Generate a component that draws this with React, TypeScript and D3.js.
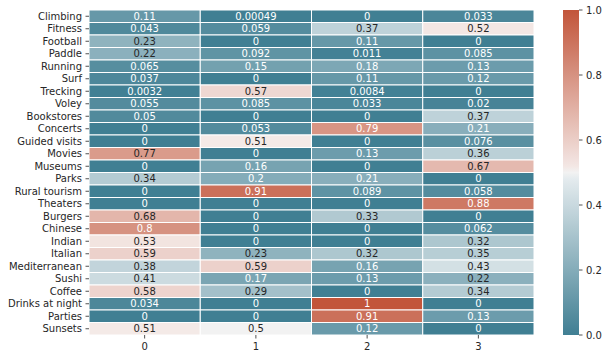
import React from "react";
import * as d3 from "d3";

const rowLabels = [
  "Climbing", "Fitness", "Football", "Paddle", "Running", "Surf", "Trecking", "Voley",
  "Bookstores", "Concerts", "Guided visits", "Movies", "Museums", "Parks", "Rural tourism",
  "Theaters", "Burgers", "Chinese", "Indian", "Italian", "Mediterranean", "Sushi", "Coffee",
  "Drinks at night", "Parties", "Sunsets",
];
const colLabels = ["0", "1", "2", "3"];
const values: number[][] = [
  [0.11, 0.00049, 0, 0.033],
  [0.043, 0.059, 0.37, 0.52],
  [0.23, 0, 0.11, 0],
  [0.22, 0.092, 0.011, 0.085],
  [0.065, 0.15, 0.18, 0.13],
  [0.037, 0, 0.11, 0.12],
  [0.0032, 0.57, 0.0084, 0],
  [0.055, 0.085, 0.033, 0.02],
  [0.05, 0, 0, 0.37],
  [0, 0.053, 0.79, 0.21],
  [0, 0.51, 0, 0.076],
  [0.77, 0, 0.13, 0.36],
  [0, 0.16, 0, 0.67],
  [0.34, 0.2, 0.21, 0],
  [0, 0.91, 0.089, 0.058],
  [0, 0, 0, 0.88],
  [0.68, 0, 0.33, 0],
  [0.8, 0, 0, 0.062],
  [0.53, 0, 0, 0.32],
  [0.59, 0.23, 0.32, 0.35],
  [0.38, 0.59, 0.16, 0.43],
  [0.41, 0.17, 0.13, 0.22],
  [0.58, 0.29, 0, 0.34],
  [0.034, 0, 1, 0],
  [0, 0, 0.91, 0.13],
  [0.51, 0.5, 0.12, 0],
];
const cbTicks = [0, 0.2, 0.4, 0.6, 0.8, 1.0];

const W = 609, H = 360;
const left = 89, right = 534, top = 10, bottom = 335;
const cbX0 = 563, cbX1 = 579;
const font = "DejaVu Sans, sans-serif";

const color = d3
  .scaleLinear<string>()
  .domain([0, 0.498, 0.5, 0.502, 1])
  .range(["#407f93", "#eaeff1", "#f2f2f2", "#f5ecea", "#c2553a"])
  .interpolate(d3.interpolateRgb)
  .clamp(true);

// text is dark on the light middle band of the colormap, white on the ends
const textColor = (v: number) => (v > 0.215 && v < 0.78 ? "#262626" : "#ffffff");

const fmt = d3.format(".2~g");

export default function App() {
  const x = d3.scaleBand<string>().domain(colLabels).range([left, right]);
  const y = d3.scaleBand<string>().domain(rowLabels).range([top, bottom]);
  const cy = d3.scaleLinear().domain([0, 1]).range([bottom, top]);
  const gradStops = d3.range(0, 1.0001, 0.02);

  return (
    <svg width={W} height={H} style={{ position: "absolute", left: 0, top: 0, background: "#fff" }}
      fontFamily={font}>
      <defs>
        <linearGradient id="cb" x1="0" y1="1" x2="0" y2="0">
          {gradStops.map((t) => (
            <stop key={t} offset={t} stopColor={color(t)} />
          ))}
        </linearGradient>
      </defs>
      {values.map((row, i) =>
        row.map((v, j) => {
          const c = color(v);
          const xx = x(colLabels[j])!;
          const yy = y(rowLabels[i])!;
          return (
            <g key={`${i}-${j}`}>
              <rect x={xx} y={yy} width={x.bandwidth()} height={y.bandwidth()} fill={c}
                stroke="#fff" strokeWidth={1} />
              <text x={xx + x.bandwidth() / 2} y={yy + y.bandwidth() / 2} dy="0.35em"
                textAnchor="middle" fontSize={10} fill={textColor(v)}>
                {fmt(v)}
              </text>
            </g>
          );
        })
      )}
      {rowLabels.map((r) => {
        const yy = y(r)! + y.bandwidth() / 2;
        return (
          <g key={r}>
            <line x1={left - 3.5} x2={left} y1={yy} y2={yy} stroke="#262626" strokeWidth={0.8} />
            <text x={left - 7} y={yy} dy="0.35em" textAnchor="end" fontSize={10} fill="#262626">
              {r}
            </text>
          </g>
        );
      })}
      {colLabels.map((c) => {
        const xx = x(c)! + x.bandwidth() / 2;
        return (
          <g key={c}>
            <line x1={xx} x2={xx} y1={bottom} y2={bottom + 3.5} stroke="#262626" strokeWidth={0.8} />
            <text x={xx} y={bottom + 7} dy="0.76em" textAnchor="middle" fontSize={10} fill="#262626">
              {c}
            </text>
          </g>
        );
      })}
      <rect x={cbX0} y={top} width={cbX1 - cbX0} height={bottom - top} fill="url(#cb)" />
      {cbTicks.map((t) => (
        <g key={t}>
          <line x1={cbX1} x2={cbX1 + 3.5} y1={cy(t)} y2={cy(t)} stroke="#262626" strokeWidth={0.8} />
          <text x={cbX1 + 7} y={cy(t)} dy="0.35em" fontSize={10} fill="#262626">
            {t.toFixed(1)}
          </text>
        </g>
      ))}
    </svg>
  );
}
